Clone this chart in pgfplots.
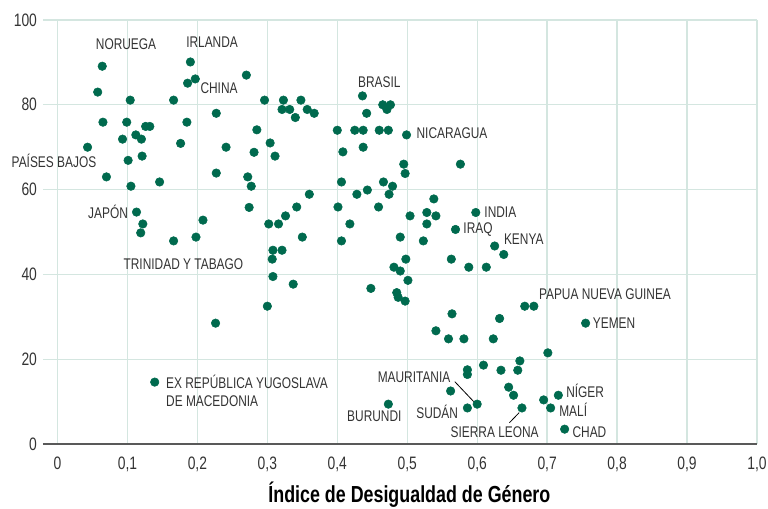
\documentclass[border=0pt]{standalone}
\usepackage{pgfplots}
\pgfplotsset{compat=1.18}
\usepackage{fontspec}
\setmainfont{Liberation Sans}[FakeStretch=0.77]
\definecolor{dot}{HTML}{006A4E}
\definecolor{gridc}{HTML}{D4E6E0}
\definecolor{txt}{HTML}{333333}
\begin{document}
\begin{tikzpicture}
\begin{axis}[
  scale only axis, width=535.5pt, height=318pt,
  xmin=-0.0207, xmax=1.0, ymin=0, ymax=100,
  axis x line*=bottom, axis y line*=left,
  x axis line style={draw=black!65, line width=1.3pt, -},
  y axis line style={draw=none},
  major tick length=0pt,
  grid=major, major grid style={color=gridc, line width=1pt},
  xtick={0,0.1,0.2,0.3,0.4,0.5,0.6,0.7,0.8,0.9,1.0},
  xticklabels={0,{0,1},{0,2},{0,3},{0,4},{0,5},{0,6},{0,7},{0,8},{0,9},{1,0}},
  ytick={0,20,40,60,80,100},
  yticklabels={0,20,40,60,80,100},
  tick label style={font=\fontsize{13.5}{14}\selectfont, text=txt},
  xticklabel style={yshift=-6pt},
  yticklabel style={xshift=-1pt},
  xlabel={\textbf{Índice de Desigualdad de Género}},
  xlabel style={font=\fontsize{17.4}{18}\selectfont, text=black, yshift=-1pt, xshift=7pt},
  clip=false,
]
\addplot[only marks, mark=*, mark size=3.2pt, color=dot, mark options={draw=dot, fill=dot}] table {
x y
0.064 89.1
0.0575 83.0
0.065 75.9
0.043 70.0
0.070 63.0
0.104 81.1
0.099 75.9
0.093 71.9
0.112 72.9
0.120 71.9
0.126 74.9
0.132 74.9
0.101 66.9
0.121 67.9
0.105 60.8
0.146 61.8
0.113 54.7
0.122 51.9
0.119 49.8
0.166 47.9
0.198 48.8
0.208 52.8
0.190 90.1
0.186 85.1
0.197 86.1
0.166 81.1
0.227 78.0
0.185 75.9
0.176 70.9
0.241 70.0
0.227 63.9
0.270 87.0
0.285 74.1
0.281 68.8
0.272 63.0
0.277 60.8
0.274 55.8
0.296 81.1
0.323 81.1
0.348 81.1
0.321 78.9
0.332 78.9
0.340 77.0
0.357 78.9
0.367 78.0
0.304 71.0
0.311 67.9
0.302 51.9
0.316 51.9
0.326 53.8
0.342 55.9
0.360 58.9
0.350 48.8
0.308 45.7
0.321 45.7
0.307 43.6
0.308 39.5
0.337 37.7
0.300 32.5
0.400 74.0
0.425 74.0
0.437 74.0
0.460 74.0
0.473 74.0
0.436 82.1
0.442 78.0
0.465 80.0
0.476 80.0
0.471 78.9
0.499 72.9
0.437 70.0
0.408 68.9
0.495 66.0
0.497 63.8
0.576 66.0
0.406 61.8
0.466 61.8
0.479 60.8
0.443 59.9
0.428 58.9
0.474 58.9
0.401 55.9
0.459 55.9
0.418 51.9
0.406 47.9
0.538 57.8
0.504 53.8
0.528 54.6
0.541 53.8
0.528 51.9
0.523 47.9
0.490 48.8
0.598 54.6
0.569 50.6
0.625 46.7
0.638 44.7
0.563 43.6
0.588 41.7
0.613 41.7
0.498 43.6
0.481 41.7
0.490 40.8
0.501 38.6
0.448 36.7
0.485 35.7
0.487 34.6
0.497 33.7
0.564 30.7
0.632 29.6
0.668 32.5
0.681 32.5
0.755 28.5
0.541 26.7
0.559 24.8
0.581 24.8
0.623 24.8
0.226 28.5
0.139 14.6
0.701 21.5
0.661 19.6
0.609 18.6
0.586 17.5
0.586 16.4
0.634 17.4
0.658 17.4
0.562 12.5
0.645 13.4
0.652 11.5
0.600 9.4
0.586 8.5
0.473 9.4
0.664 8.5
0.695 10.4
0.716 11.5
0.705 8.5
0.725 3.5
};
\begin{scope}[every node/.style={font=\fontsize{11.6}{12}\selectfont, text=txt, inner sep=0pt}]
\node at (axis cs:0.098,94.3) {NORUEGA};
\node at (axis cs:0.221,94.8) {IRLANDA};
\node at (axis cs:0.231,84.0) {CHINA};
\node at (axis cs:0.460,85.4) {BRASIL};
\node[anchor=west] at (axis cs:0.513,73.3) {NICARAGUA};
\node at (axis cs:-0.005,66.7) {PAÍSES BAJOS};
\node[anchor=east] at (axis cs:0.101,54.7) {JAPÓN};
\node at (axis cs:0.180,42.5) {TRINIDAD Y TABAGO};
\node[anchor=west] at (axis cs:0.155,14.6) {EX REPÚBLICA YUGOSLAVA};
\node[anchor=west] at (axis cs:0.155,10.1) {DE MACEDONIA};
\node[anchor=west] at (axis cs:0.610,54.7) {INDIA};
\node[anchor=west] at (axis cs:0.580,50.5) {IRAQ};
\node[anchor=west] at (axis cs:0.638,48.3) {KENYA};
\node[anchor=west] at (axis cs:0.688,35.4) {PAPUA NUEVA GUINEA};
\node[anchor=west] at (axis cs:0.765,28.5) {YEMEN};
\node[anchor=east] at (axis cs:0.562,15.8) {MAURITANIA};
\node at (axis cs:0.453,6.6) {BURUNDI};
\node[anchor=east] at (axis cs:0.573,7.5) {SUDÁN};
\node at (axis cs:0.625,2.8) {SIERRA LEONA};
\node[anchor=west] at (axis cs:0.727,12.5) {NÍGER};
\node[anchor=west] at (axis cs:0.717,8.0) {MALÍ};
\node[anchor=west] at (axis cs:0.736,2.8) {CHAD};
\end{scope}
\draw[black, line width=0.6pt] (axis cs:0.568,14.7) -- (axis cs:0.595,10.0);
\draw[black, line width=0.6pt] (axis cs:0.646,5.0) -- (axis cs:0.660,7.4);
\end{axis}
\pgfresetboundingbox
\path ([shift={(-32.25pt,-48pt)}]current axis.south west) rectangle ([shift={(8.25pt,15pt)}]current axis.north east);
\end{tikzpicture}
\end{document}
